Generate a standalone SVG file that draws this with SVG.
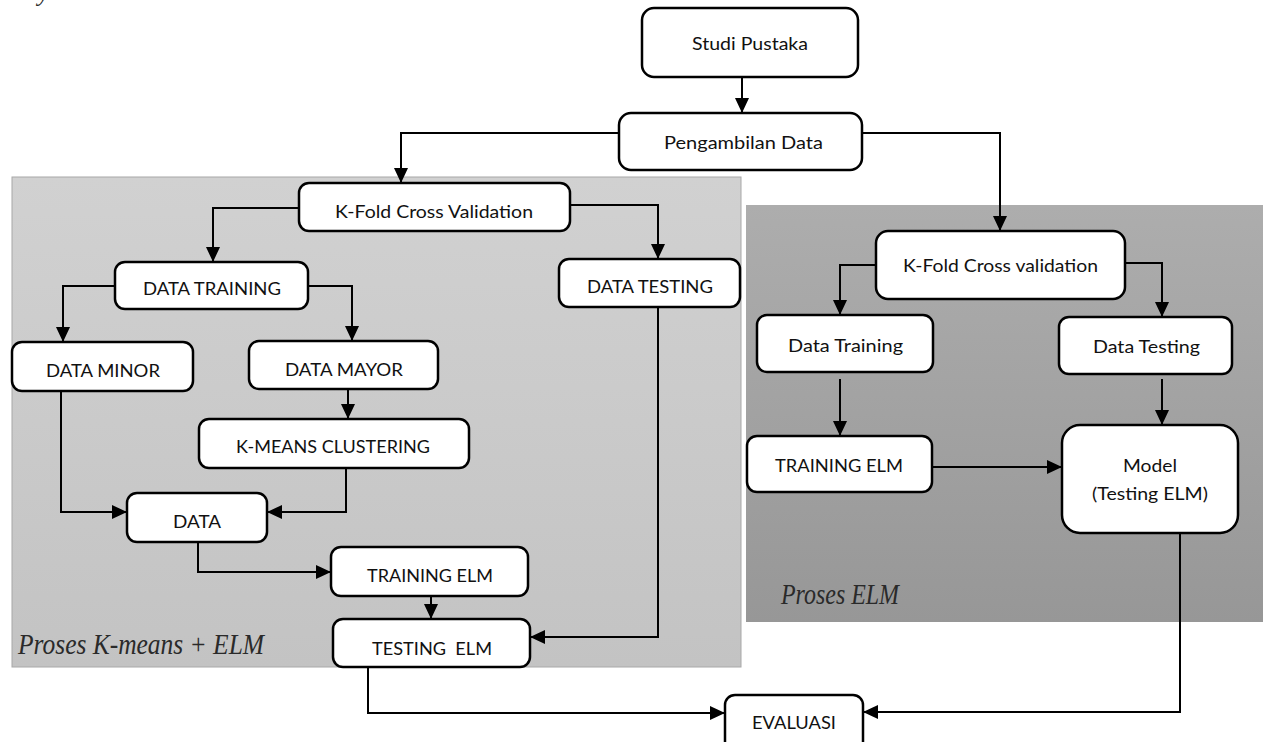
<svg xmlns="http://www.w3.org/2000/svg" width="1263" height="742" viewBox="0 0 1263 742">
<style>
.box{fill:#fff;stroke:#000;stroke-width:2.5}
.lbl{font-family:Lato,"Open Sans","Liberation Sans",sans-serif;font-size:18px;fill:#111;text-anchor:middle}
.ital{font-family:"Liberation Serif","Times New Roman",serif;font-style:italic;font-size:25px;fill:#2a2a2a}
.con{fill:none;stroke:#000;stroke-width:2}
</style>
<defs>
<linearGradient id="gl" x1="0" y1="0" x2="0" y2="1"><stop offset="0" stop-color="#d1d1d1"/><stop offset="1" stop-color="#c3c3c3"/></linearGradient>
<linearGradient id="gr" x1="0" y1="0" x2="0" y2="1"><stop offset="0" stop-color="#adadad"/><stop offset="1" stop-color="#979797"/></linearGradient>
<marker id="ah" markerUnits="userSpaceOnUse" markerWidth="15" markerHeight="14" refX="15" refY="7" orient="auto"><path d="M0,0 L15,7 L0,14 z" fill="#000"/></marker>
</defs>
<text x="38" y="0.5" class="ital" font-size="24">y</text>
<g id="panel-kmeans"><rect x="12" y="177" width="729" height="490" fill="url(#gl)" stroke="#a8a8a8" stroke-width="1"/><text class="ital" transform="translate(18,654) scale(1,1.18)" textLength="246" lengthAdjust="spacingAndGlyphs">Proses K-means + ELM</text></g>
<g id="panel-elm"><rect x="746" y="205" width="520" height="417" fill="url(#gr)"/><text class="ital" transform="translate(781,604) scale(1,1.18)" textLength="118" lengthAdjust="spacingAndGlyphs">Proses ELM</text></g>
<g id="connectors">
<path class="con" marker-end="url(#ah)" d="M742,77 V113"/>
<path class="con" marker-end="url(#ah)" d="M619,133 H401 V183"/>
<path class="con" marker-end="url(#ah)" d="M862,133 H1000 V231"/>
<path class="con" marker-end="url(#ah)" d="M299,208 H213 V262"/>
<path class="con" marker-end="url(#ah)" d="M570,205 H658 V259"/>
<path class="con" marker-end="url(#ah)" d="M115,286 H63 V342"/>
<path class="con" marker-end="url(#ah)" d="M308,286 H352 V341"/>
<path class="con" marker-end="url(#ah)" d="M348,389 V419"/>
<path class="con" marker-end="url(#ah)" d="M61,391 V512 H127"/>
<path class="con" marker-end="url(#ah)" d="M346,468 V512 H267"/>
<path class="con" marker-end="url(#ah)" d="M198,542 V572 H331"/>
<path class="con" marker-end="url(#ah)" d="M431,596 V619"/>
<path class="con" marker-end="url(#ah)" d="M658,307 V637 H530"/>
<path class="con" marker-end="url(#ah)" d="M368,667 V713 H725"/>
<path class="con" marker-end="url(#ah)" d="M876,265 H840 V315"/>
<path class="con" marker-end="url(#ah)" d="M1125,263 H1162 V317"/>
<path class="con" marker-end="url(#ah)" d="M840,379 V436"/>
<path class="con" marker-end="url(#ah)" d="M1162,379 V425"/>
<path class="con" marker-end="url(#ah)" d="M932,467 H1062"/>
<path class="con" marker-end="url(#ah)" d="M1180,533 V712 H863"/>
</g>
<g id="studi-pustaka"><rect class="box" x="642" y="8" width="216" height="69" rx="12"/><text class="lbl" x="750" y="50" textLength="116" lengthAdjust="spacingAndGlyphs">Studi Pustaka</text></g>
<g id="pengambilan-data"><rect class="box" x="619" y="113" width="243" height="57" rx="12"/><text class="lbl" x="743.5" y="149" textLength="159" lengthAdjust="spacingAndGlyphs">Pengambilan Data</text></g>
<g id="kfold-left"><rect class="box" x="299" y="183" width="271" height="48" rx="10"/><text class="lbl" x="434" y="218" textLength="198" lengthAdjust="spacingAndGlyphs">K-Fold Cross Validation</text></g>
<g id="data-training"><rect class="box" x="115" y="262" width="193" height="47" rx="10"/><text class="lbl" x="212" y="295" textLength="138" lengthAdjust="spacingAndGlyphs">DATA TRAINING</text></g>
<g id="data-testing"><rect class="box" x="559" y="259" width="181" height="48" rx="10"/><text class="lbl" x="650" y="293" textLength="126" lengthAdjust="spacingAndGlyphs">DATA TESTING</text></g>
<g id="data-minor"><rect class="box" x="12" y="342" width="181" height="49" rx="10"/><text class="lbl" x="103" y="377" textLength="114" lengthAdjust="spacingAndGlyphs">DATA MINOR</text></g>
<g id="data-mayor"><rect class="box" x="249" y="341" width="189" height="48" rx="10"/><text class="lbl" x="344" y="376" textLength="118" lengthAdjust="spacingAndGlyphs">DATA MAYOR</text></g>
<g id="kmeans"><rect class="box" x="199" y="419" width="270" height="49" rx="10"/><text class="lbl" x="333" y="453" textLength="194" lengthAdjust="spacingAndGlyphs">K-MEANS CLUSTERING</text></g>
<g id="data"><rect class="box" x="127" y="493" width="140" height="49" rx="10"/><text class="lbl" x="197" y="528" textLength="48" lengthAdjust="spacingAndGlyphs">DATA</text></g>
<g id="training-elm-left"><rect class="box" x="331" y="547" width="197" height="49" rx="10"/><text class="lbl" x="430" y="582" textLength="126" lengthAdjust="spacingAndGlyphs">TRAINING ELM</text></g>
<g id="testing-elm-left"><rect class="box" x="333" y="619" width="197" height="48" rx="10"/><text class="lbl" x="432" y="655" textLength="120" lengthAdjust="spacingAndGlyphs" xml:space="preserve">TESTING  ELM</text></g>
<g id="kfold-right"><rect class="box" x="876" y="231" width="249" height="68" rx="12"/><text class="lbl" x="1000.5" y="272" textLength="195" lengthAdjust="spacingAndGlyphs">K-Fold Cross validation</text></g>
<g id="data-training-right"><rect class="box" x="757" y="315" width="176" height="57" rx="10"/><text class="lbl" x="845.5" y="352" textLength="115" lengthAdjust="spacingAndGlyphs">Data Training</text></g>
<g id="data-testing-right"><rect class="box" x="1059" y="317" width="173" height="57" rx="10"/><text class="lbl" x="1146.5" y="353" textLength="107" lengthAdjust="spacingAndGlyphs">Data Testing</text></g>
<g id="training-elm-right"><rect class="box" x="747" y="436" width="185" height="56" rx="10"/><text class="lbl" x="839" y="472" textLength="128" lengthAdjust="spacingAndGlyphs">TRAINING ELM</text></g>
<g id="model"><rect class="box" x="1062" y="425" width="176" height="108" rx="18"/><text class="lbl" x="1150" y="472" textLength="54" lengthAdjust="spacingAndGlyphs">Model</text><text class="lbl" x="1150" y="500" textLength="116" lengthAdjust="spacingAndGlyphs">(Testing ELM)</text></g>
<g id="evaluasi"><rect class="box" x="725" y="695" width="138" height="60" rx="10"/><text class="lbl" x="794" y="729" textLength="84" lengthAdjust="spacingAndGlyphs">EVALUASI</text></g>
</svg>
